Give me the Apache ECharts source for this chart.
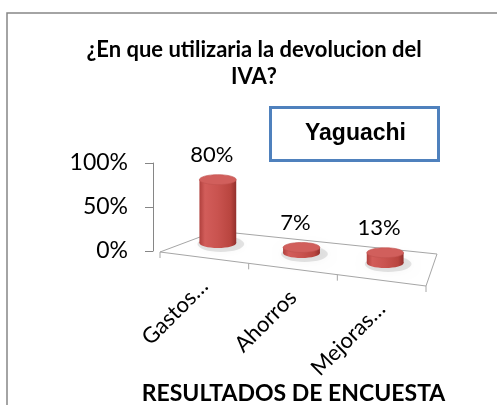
<!DOCTYPE html>
<html>
<head>
<meta charset="utf-8">
<script src="https://cdn.jsdelivr.net/npm/echarts@6/dist/echarts.min.js"></script>
<style>
html,body{margin:0;padding:0;background:#fff;}
#chart{width:497px;height:405px;}
</style>
</head>
<body>
<div id="chart"></div>
<script>
// ---- data ----
var categories = ['Gastos…', 'Ahorros', 'Mejoras…'];
var values = [0.80, 0.07, 0.13];
var yTicks = [0, 0.5, 1];
var titleLines = ['¿En que utilizaria la devolucion del', 'IVA?'];
var boxLabel = 'Yaguachi';
var xAxisTitle = 'RESULTADOS DE ENCUESTA';

var chart = echarts.init(document.getElementById('chart'), null, {renderer: 'canvas'});

function pct(v) { return Math.round(v * 100) + '%'; }

var option = {
  backgroundColor: '#ffffff',
  animation: false,
  title: {
    text: titleLines.join('\n'),
    left: 254,
    top: 36,
    textAlign: 'center',
    padding: 0,
    textStyle: {fontFamily: 'Lato', fontWeight: 'bold', fontSize: 22, lineHeight: 27, color: '#000'}
  },
  graphic: [
    {type: 'rect', shape: {x: 7, y: 13, width: 600, height: 500}, style: {fill: 'none', stroke: '#868686', lineWidth: 1.5}, z: -10, silent: true},
    {type: 'group', left: 269, top: 106, children: [
      {type: 'rect', shape: {x: 0, y: 0, width: 168, height: 53}, style: {fill: '#fff', stroke: '#4F81BD', lineWidth: 3}},
      {type: 'text', x: 85, y: 26, style: {text: boxLabel, fontFamily: 'Liberation Sans', fontWeight: 'bold', fontSize: 23, fill: '#000', align: 'center', verticalAlign: 'middle'}}
    ]}
  ],
  grid: {left: 176, right: 70, top: 163, bottom: 154, containLabel: false, outerBoundsMode: 'none'},
  xAxis: {
    type: 'category',
    data: categories,
    axisLine: {show: false},
    axisTick: {show: false},
    axisLabel: {show: false},
    name: xAxisTitle,
    nameLocation: 'middle',
    nameGap: 131,
    nameTextStyle: {fontFamily: 'Lato', fontWeight: 'bold', fontSize: 23, color: '#000', padding: [0, 16, 0, 0]}
  },
  yAxis: {
    type: 'value',
    min: yTicks[0],
    max: yTicks[yTicks.length - 1],
    interval: 0.5,
    offset: 23,
    axisLine: {show: true, lineStyle: {color: '#868686', width: 1}},
    axisTick: {show: true, length: 8, lineStyle: {color: '#868686'}},
    splitLine: {show: false},
    axisLabel: {formatter: pct, fontFamily: 'Lato', fontSize: 23, color: '#000', margin: 25, padding: [8, 0, 0, 0]}
  },
  series: [
    {
      type: 'custom',
      z: 1,
      silent: true,
      data: [[0, 0]],
      renderItem: function (params, api) {
        var cs = params.coordSys;
        var bottom = cs.y + cs.height;
        var fl = [cs.x - 16, bottom + 1];
        var bl = [cs.x + 40, bottom - 20];
        var br = [cs.x + cs.width + 10, bottom + 3];
        var fr = [cs.x + cs.width - 1, bottom + 35];
        var children = [
          {type: 'polygon', shape: {points: [fl, bl, br, fr]}, style: {fill: 'none', stroke: '#A6A6A6', lineWidth: 1}}
        ];
        var n = categories.length;
        for (var k = 0; k <= n; k++) {
          var t = k / n;
          var px = fl[0] + (fr[0] - fl[0]) * t;
          var py = fl[1] + (fr[1] - fl[1]) * t;
          children.push({type: 'line', shape: {x1: px, y1: py, x2: px, y2: py + 6}, style: {stroke: '#A6A6A6', lineWidth: 1}});
        }
        // category labels along the front edge of the floor
        for (var j = 0; j < n; j++) {
          var tc = (j + 0.5) / n;
          var lx = fl[0] + (fr[0] - fl[0]) * tc;
          var ly = fl[1] + (fr[1] - fl[1]) * tc + 25;
          children.push({type: 'text', x: lx, y: ly, rotation: Math.PI / 4,
            style: {text: categories[j], fontFamily: 'Lato', fontSize: 22, fill: '#000', align: 'right', verticalAlign: 'middle'}});
        }
        return {type: 'group', children: children};
      }
    },
    {
      type: 'custom',
      z: 2,
      silent: true,
      data: values.map(function (v, i) { return [i, v]; }),
      renderItem: function (params, api) {
        var i = api.value(0), v = api.value(1);
        var base = api.coord([i, 0]);
        var topP = api.coord([i, v]);
        var bw = api.size([1, 0])[0] * 0.44;
        var depth = i * 10 - 8;
        var cx = base[0];
        var by = base[1] + depth;
        var h = (base[1] - topP[1]) * 0.9;
        var ty = by - h;
        var rx = bw / 2, ry = 5;
        var grad = new echarts.graphic.LinearGradient(0, 0, 1, 0, [
          {offset: 0, color: '#B0403D'},
          {offset: 0.15, color: '#D25D5A'},
          {offset: 0.5, color: '#C9534F'},
          {offset: 0.85, color: '#B9453F'},
          {offset: 1, color: '#93302D'}
        ]);
        return {type: 'group', children: [
          {type: 'ellipse', shape: {cx: cx + 3, cy: by + 1, rx: rx + 5, ry: ry + 3}, style: {fill: 'rgba(0,0,0,0.10)', shadowBlur: 8, shadowColor: 'rgba(0,0,0,0.3)'}},
          {type: 'ellipse', shape: {cx: cx, cy: by, rx: rx, ry: ry}, style: {fill: grad}},
          {type: 'rect', shape: {x: cx - rx, y: ty, width: bw, height: h}, style: {fill: grad}},
          {type: 'ellipse', shape: {cx: cx, cy: ty, rx: rx, ry: ry}, style: {fill: '#D15F5C', stroke: '#C0504D', lineWidth: 0.6}},
          {type: 'text', x: cx - 6, y: ty - 25, style: {text: pct(v), fontFamily: 'Lato', fontSize: 22, fill: '#000', align: 'center', verticalAlign: 'middle'}}
        ]};
      }
    }
  ]
};
chart.setOption(option);
</script>
</body>
</html>
